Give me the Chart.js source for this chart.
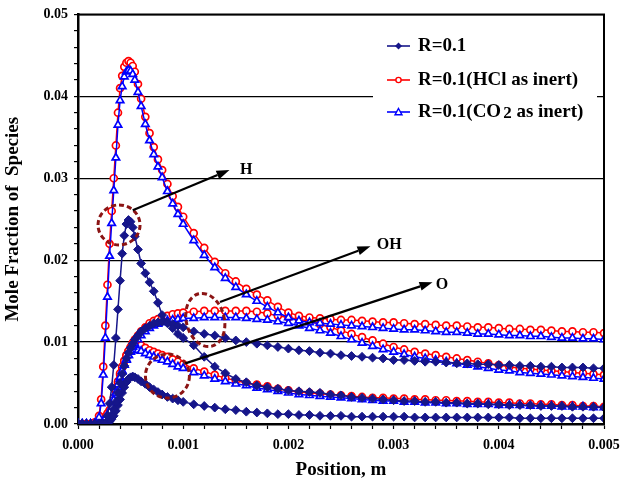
<!DOCTYPE html>
<html>
<head>
<meta charset="utf-8">
<script src="https://cdn.jsdelivr.net/npm/chart.js@4.4.0/dist/chart.umd.min.js"></script>
<style>
  body { margin: 0; background: #fff; }
  #wrap { width: 636px; height: 486px; }
</style>
</head>
<body>
<div id="wrap"><canvas id="myChart"></canvas></div>
<script>
// positions along the reactor, m (fine near the ignition zone)
const positionsEarly = [0, 0.00004, 0.00008, 0.00012, 0.00016, 0.0002, 0.00022, 0.00024, 0.00026, 0.00028,
  0.0003, 0.00032, 0.00034, 0.00036, 0.00038, 0.0004, 0.00042, 0.00044, 0.00046, 0.00048,
  0.0005, 0.00052, 0.00054, 0.00057, 0.0006, 0.00064, 0.00068, 0.00072, 0.00076, 0.0008,
  0.00085, 0.0009, 0.00095, 0.001];
const positionsTail = [0.0011, 0.0012, 0.0013, 0.0014, 0.0015, 0.0016, 0.0017, 0.0018, 0.0019, 0.002,
  0.0021, 0.0022, 0.0023, 0.0024, 0.0025, 0.0026, 0.0027, 0.0028, 0.0029, 0.003,
  0.0031, 0.0032, 0.0033, 0.0034, 0.0035, 0.0036, 0.0037, 0.0038, 0.0039, 0.004,
  0.0041, 0.0042, 0.0043, 0.0044, 0.0045, 0.0046, 0.0047, 0.0048, 0.0049, 0.005];
const positions = positionsEarly.concat(positionsTail);

// R=0.1
const baseH = [0, 0, 0, 0, 0, 0, 0, 0, 0, 0.001, 0.0025, 0.0045, 0.0072, 0.0105, 0.014, 0.0175, 0.0208, 0.023, 0.0244, 0.0249,
  0.0247, 0.024, 0.0229, 0.0213, 0.0196, 0.0184, 0.0173, 0.0162, 0.0148, 0.0133, 0.0123, 0.0117, 0.011, 0.0105].concat(
  [0.0096, 0.0082, 0.007, 0.0062, 0.0055, 0.0051, 0.0047, 0.0045, 0.0043, 0.0041,
  0.004, 0.0039, 0.0038, 0.0036, 0.0035, 0.0033, 0.0032, 0.0031, 0.003, 0.0029,
  0.0028, 0.0028, 0.0027, 0.0027, 0.0026, 0.0026, 0.0025, 0.0025, 0.0024, 0.0024,
  0.0023, 0.0023, 0.0023, 0.0022, 0.0022, 0.0022, 0.0021, 0.0021, 0.0021, 0.002]);
const baseOH = [0, 0, 0, 0, 0, 0, 0, 0, 0.0001, 0.0003, 0.0006, 0.0011, 0.0018, 0.0027, 0.0038, 0.005, 0.0061, 0.0071, 0.008, 0.0087,
  0.0093, 0.0098, 0.0103, 0.0108, 0.0113, 0.0117, 0.012, 0.0123, 0.0124, 0.0125, 0.0124, 0.0122, 0.012, 0.0118].concat(
  [0.0113, 0.011, 0.0108, 0.0105, 0.0102, 0.01, 0.0098, 0.0096, 0.0094, 0.0092,
  0.009, 0.0089, 0.0087, 0.0086, 0.0084, 0.0083, 0.0082, 0.0081, 0.008, 0.0078,
  0.0078, 0.0077, 0.0076, 0.0076, 0.0075, 0.0074, 0.0074, 0.0073, 0.0073, 0.0072,
  0.0072, 0.0071, 0.0071, 0.007, 0.007, 0.0069, 0.0069, 0.0069, 0.0068, 0.0068]);
const baseO = [0, 0, 0, 0, 0, 0, 0, 0, 0, 0.0001, 0.0003, 0.0006, 0.001, 0.0016, 0.0023, 0.003, 0.0038, 0.0045, 0.0051, 0.0055,
  0.0057, 0.0058, 0.0057, 0.0055, 0.0052, 0.0049, 0.0045, 0.0042, 0.0039, 0.0036, 0.0033, 0.0031, 0.0029, 0.0027].concat(
  [0.0024, 0.0022, 0.002, 0.0018, 0.0017, 0.0015, 0.0014, 0.0013, 0.0012, 0.0012,
  0.0011, 0.0011, 0.001, 0.001, 0.001, 0.0009, 0.0009, 0.0009, 0.0009, 0.0009,
  0.0009, 0.0008, 0.0008, 0.0008, 0.0008, 0.0008, 0.0008, 0.0008, 0.0008, 0.0008,
  0.0008, 0.0007, 0.0007, 0.0007, 0.0007, 0.0007, 0.0007, 0.0007, 0.0007, 0.0007]);

// R=0.1 (HCl as inert)
const hclH = [0, 0, 0, 0, 0.0002, 0.001, 0.003, 0.007, 0.012, 0.017, 0.022, 0.026, 0.03, 0.034, 0.038, 0.041, 0.0425, 0.0436, 0.0441, 0.0443,
  0.0441, 0.0437, 0.043, 0.0415, 0.0397, 0.0375, 0.0355, 0.0338, 0.0323, 0.031, 0.0293, 0.0278, 0.0265, 0.0253].concat(
  [0.0233, 0.0215, 0.0198, 0.0184, 0.0174, 0.0165, 0.0158, 0.0151, 0.0143, 0.0136,
  0.0132, 0.013, 0.0129, 0.0128, 0.0127, 0.0127, 0.0126, 0.0125, 0.0124, 0.0124,
  0.0123, 0.0122, 0.0122, 0.0121, 0.012, 0.012, 0.0119, 0.0118, 0.0118, 0.0117,
  0.0116, 0.0116, 0.0115, 0.0115, 0.0114, 0.0113, 0.0113, 0.0112, 0.0112, 0.0111]);
const hclOH = [0, 0, 0, 0, 0, 0, 0.0002, 0.0005, 0.0009, 0.0013, 0.0017, 0.0024, 0.0032, 0.0042, 0.0052, 0.0062, 0.007, 0.0077, 0.0083, 0.0089,
  0.0094, 0.0099, 0.0103, 0.0108, 0.0113, 0.0118, 0.0123, 0.0126, 0.0128, 0.013, 0.0132, 0.0134, 0.0135, 0.0136].concat(
  [0.0137, 0.0138, 0.0138, 0.0138, 0.0138, 0.0138, 0.0137, 0.0135, 0.0132, 0.013,
  0.0128, 0.0125, 0.0122, 0.0118, 0.0114, 0.011, 0.0106, 0.0102, 0.0098, 0.0094,
  0.0091, 0.0088, 0.0086, 0.0084, 0.0082, 0.008, 0.0078, 0.0076, 0.0074, 0.0072,
  0.007, 0.0068, 0.0067, 0.0066, 0.0065, 0.0064, 0.0063, 0.0062, 0.0061, 0.006]);
const hclO = [0, 0, 0, 0, 0, 0, 0, 0.0001, 0.0003, 0.0006, 0.0012, 0.0019, 0.0028, 0.0039, 0.005, 0.006, 0.0069, 0.0077, 0.0084, 0.0089,
  0.0093, 0.0098, 0.0099, 0.0098, 0.0096, 0.0093, 0.009, 0.0088, 0.0086, 0.0084, 0.0082, 0.0079, 0.0076, 0.0073].concat(
  [0.0068, 0.0064, 0.006, 0.0056, 0.0053, 0.005, 0.0048, 0.0046, 0.0043, 0.0041,
  0.0039, 0.0038, 0.0037, 0.0036, 0.0035, 0.0034, 0.0033, 0.0032, 0.0032, 0.0031,
  0.0031, 0.003, 0.003, 0.0029, 0.0029, 0.0028, 0.0028, 0.0027, 0.0027, 0.0026,
  0.0026, 0.0025, 0.0025, 0.0024, 0.0024, 0.0023, 0.0023, 0.0022, 0.0022, 0.0021]);

// R=0.1 (CO2 as inert)
const co2H = [0, 0, 0, 0, 0.0001, 0.0008, 0.0025, 0.006, 0.0105, 0.0155, 0.0205, 0.0245, 0.0285, 0.0325, 0.0365, 0.0395, 0.0412, 0.0424, 0.043, 0.0432,
  0.0431, 0.0427, 0.042, 0.0405, 0.0388, 0.0366, 0.0346, 0.0329, 0.0314, 0.0301, 0.0284, 0.0269, 0.0256, 0.0244].concat(
  [0.0224, 0.0206, 0.0191, 0.0178, 0.0167, 0.0158, 0.015, 0.0143, 0.0136, 0.013,
  0.0126, 0.0124, 0.0123, 0.0122, 0.0121, 0.012, 0.0119, 0.0118, 0.0117, 0.0116,
  0.0115, 0.0115, 0.0114, 0.0113, 0.0112, 0.0112, 0.0111, 0.011, 0.011, 0.0109,
  0.0108, 0.0108, 0.0107, 0.0107, 0.0106, 0.0105, 0.0105, 0.0104, 0.0104, 0.0103]);
const co2OH = [0, 0, 0, 0, 0, 0, 0.0001, 0.0004, 0.0007, 0.0011, 0.0015, 0.0021, 0.0029, 0.0038, 0.0048, 0.0057, 0.0065, 0.0072, 0.0078, 0.0084,
  0.0089, 0.0094, 0.0098, 0.0103, 0.0108, 0.0113, 0.0117, 0.012, 0.0122, 0.0124, 0.0126, 0.0127, 0.0128, 0.0129].concat(
  [0.0129, 0.013, 0.013, 0.013, 0.013, 0.0129, 0.0128, 0.0127, 0.0125, 0.0123,
  0.012, 0.0117, 0.0114, 0.0111, 0.0107, 0.0103, 0.0099, 0.0095, 0.0091, 0.0088,
  0.0085, 0.0082, 0.008, 0.0078, 0.0076, 0.0074, 0.0072, 0.007, 0.0068, 0.0066,
  0.0065, 0.0063, 0.0062, 0.0061, 0.006, 0.0059, 0.0058, 0.0057, 0.0056, 0.0055]);
const co2O = [0, 0, 0, 0, 0, 0, 0, 0.0001, 0.0002, 0.0005, 0.001, 0.0017, 0.0025, 0.0035, 0.0045, 0.0055, 0.0064, 0.0072, 0.0079, 0.0084,
  0.0088, 0.009, 0.0091, 0.009, 0.0089, 0.0086, 0.0084, 0.0082, 0.008, 0.0078, 0.0076, 0.0073, 0.007, 0.0068].concat(
  [0.0063, 0.0059, 0.0055, 0.0052, 0.0049, 0.0047, 0.0044, 0.0042, 0.004, 0.0038,
  0.0036, 0.0035, 0.0034, 0.0033, 0.0032, 0.0031, 0.003, 0.0029, 0.0028, 0.0028,
  0.0027, 0.0027, 0.0026, 0.0026, 0.0025, 0.0025, 0.0024, 0.0024, 0.0024, 0.0023,
  0.0023, 0.0023, 0.0022, 0.0022, 0.0022, 0.0021, 0.0021, 0.0021, 0.002, 0.002]);

const seriesNames = ["R=0.1", "R=0.1(HCl as inert)", "R=0.1(CO2 as inert)"];
const yTicks = ["0.00", "0.01", "0.02", "0.03", "0.04", "0.05"];
const xTicks = ["0.000", "0.001", "0.002", "0.003", "0.004", "0.005"];

const FONT = "'Liberation Serif', 'Times New Roman', serif";
const NAVY = "#16168a";
const RED = "#ff0000";
const BLUE = "#0000ff";

function toPoints(values) {
  return positions.map((x, i) => ({ x: x, y: values[i] }));
}

function baseSet(values) {
  return {
    data: toPoints(values), showLine: true, borderColor: NAVY, backgroundColor: NAVY,
    borderWidth: 1.5, pointStyle: "rectRot", pointRadius: 4.4, pointBorderWidth: 1,
  };
}
function hclSet(values) {
  return {
    data: toPoints(values), showLine: true, borderColor: RED, backgroundColor: "#fff",
    borderWidth: 1.5, pointStyle: "circle", pointRadius: 3.5, pointBorderWidth: 1.7,
  };
}
function co2Set(values) {
  return {
    data: toPoints(values), showLine: true, borderColor: BLUE, backgroundColor: "#fff",
    borderWidth: 1.5, pointStyle: "triangle", pointRadius: 4.3, pointBorderWidth: 1.7,
  };
}

function isMajor(v, step) {
  return Math.abs(v / step - Math.round(v / step)) < 1e-6;
}

function drawArrow(ctx, x1, y1, x2, y2) {
  const ang = Math.atan2(y2 - y1, x2 - x1);
  const len = 13, half = 4.5;
  const bx = x2 - len * Math.cos(ang), by = y2 - len * Math.sin(ang);
  ctx.beginPath();
  ctx.moveTo(x1, y1);
  ctx.lineTo(bx, by);
  ctx.stroke();
  ctx.beginPath();
  ctx.moveTo(x2, y2);
  ctx.lineTo(bx + half * Math.sin(ang), by - half * Math.cos(ang));
  ctx.lineTo(bx - half * Math.sin(ang), by + half * Math.cos(ang));
  ctx.closePath();
  ctx.fill();
}

function legendMarker(ctx, i, x, y) {
  ctx.lineWidth = 1.4;
  ctx.beginPath();
  if (i === 0) {
    ctx.fillStyle = NAVY;
    ctx.moveTo(x, y - 3.5); ctx.lineTo(x + 3.5, y); ctx.lineTo(x, y + 3.5); ctx.lineTo(x - 3.5, y);
    ctx.closePath(); ctx.fill();
  } else if (i === 1) {
    ctx.fillStyle = "#fff"; ctx.strokeStyle = RED;
    ctx.arc(x, y, 2.6, 0, Math.PI * 2); ctx.fill(); ctx.stroke();
  } else {
    ctx.fillStyle = "#fff"; ctx.strokeStyle = BLUE;
    ctx.moveTo(x, y - 3.5); ctx.lineTo(x + 3.5, y + 2.8); ctx.lineTo(x - 3.5, y + 2.8);
    ctx.closePath(); ctx.fill(); ctx.stroke();
  }
}

// frame, legend, circles and arrows
const overlay = {
  id: "overlay",
  afterDraw(chart) {
    const ctx = chart.ctx;
    const a = chart.chartArea;
    const xs = chart.scales.x;
    const ys = chart.scales.y;
    const px = (v) => xs.getPixelForValue(v);
    const py = (v) => ys.getPixelForValue(v);
    ctx.save();

    // top and right border
    ctx.strokeStyle = "#000";
    ctx.lineWidth = 2;
    ctx.beginPath();
    ctx.moveTo(a.left, a.top);
    ctx.lineTo(a.right, a.top);
    ctx.lineTo(a.right, a.bottom);
    ctx.stroke();

    // legend
    ctx.fillStyle = "#fff";
    ctx.fillRect(373, 26, 224, 104);
    const colors = [NAVY, RED, BLUE];
    const rows = [46, 80, 112];
    ctx.textBaseline = "middle";
    for (let i = 0; i < 3; i++) {
      const y = rows[i];
      ctx.strokeStyle = colors[i];
      ctx.lineWidth = 1.6;
      ctx.beginPath();
      ctx.moveTo(387, y);
      ctx.lineTo(410, y);
      ctx.stroke();
      legendMarker(ctx, i, 398.5, y);
      ctx.fillStyle = "#000";
      ctx.font = "bold 19px " + FONT;
      if (i < 2) {
        ctx.fillText(seriesNames[i], 418, y);
      } else {
        const head = "R=0.1(CO";
        ctx.fillText(head, 418, y);
        let x = 418 + ctx.measureText(head).width + 2;
        ctx.font = "bold 17px " + FONT;
        ctx.fillText("2", x, y + 2);
        x += ctx.measureText("2").width;
        ctx.font = "bold 19px " + FONT;
        ctx.fillText(" as inert)", x, y);
      }
    }

    // dashed rings round the peaks
    ctx.strokeStyle = "#8b1414";
    ctx.lineWidth = 3;
    ctx.setLineDash([5, 3]);
    ctx.beginPath();
    ctx.ellipse(px(0.00039), py(0.0243), 21, 20, 0, 0, Math.PI * 2);
    ctx.stroke();
    ctx.beginPath();
    ctx.ellipse(px(0.00121), py(0.0127), 19, 27, -0.25, 0, Math.PI * 2);
    ctx.stroke();
    ctx.beginPath();
    ctx.ellipse(px(0.00085), py(0.00585), 22, 22, 0, 0, Math.PI * 2);
    ctx.stroke();
    ctx.setLineDash([]);

    // arrows and species labels
    ctx.strokeStyle = "#000";
    ctx.fillStyle = "#000";
    ctx.lineWidth = 2.2;
    drawArrow(ctx, px(0.00052), py(0.0261), px(0.00144), py(0.031));
    drawArrow(ctx, px(0.00135), py(0.0149), px(0.00278), py(0.0217));
    drawArrow(ctx, px(0.00102), py(0.0074), px(0.00337), py(0.0173));
    ctx.font = "bold 16px " + FONT;
    ctx.textBaseline = "middle";
    ctx.fillText("H", px(0.00154), py(0.0310));
    ctx.fillText("OH", px(0.00284), py(0.0219));
    ctx.fillText("O", px(0.00340), py(0.0170));
    ctx.restore();
  },
};

new Chart(document.getElementById("myChart"), {
  type: "scatter",
  data: {
    datasets: [
      baseSet(baseH), baseSet(baseOH), baseSet(baseO),
      co2Set(co2H), co2Set(co2OH), co2Set(co2O),
      hclSet(hclH), hclSet(hclOH), hclSet(hclO),
    ],
  },
  options: {
    responsive: true,
    maintainAspectRatio: false,
    animation: false,
    layout: { padding: { top: 14, right: 32, left: 0, bottom: 0 } },
    plugins: { legend: { display: false }, tooltip: { enabled: false } },
    scales: {
      x: {
        type: "linear", min: 0, max: 0.005,
        afterFit: (s) => { s.height = 62; },
        border: { display: true, color: "#000", width: 2.5 },
        grid: { drawOnChartArea: false, drawTicks: true, tickLength: 5, tickColor: "#000", tickWidth: 1.2 },
        ticks: {
          stepSize: 0.0002, autoSkip: false, maxRotation: 0, padding: 8, color: "#000",
          font: { family: FONT, size: 14, weight: "bold" },
          callback: (v) => (isMajor(v, 0.001) ? xTicks[Math.round(v / 0.001)] : ""),
        },
        title: {
          display: true, text: "Position, m", color: "#000",
          font: { family: FONT, size: 19, weight: "bold" }, padding: { top: 0, bottom: 5 },
        },
      },
      y: {
        type: "linear", min: 0, max: 0.05,
        afterFit: (s) => { s.width = 78; },
        border: { display: true, color: "#000", width: 2.5 },
        grid: {
          drawTicks: true, tickLength: 4, tickColor: "#000", tickWidth: 1.2, lineWidth: 1.2,
          color: (c) => (c.tick && isMajor(c.tick.value, 0.01) ? "#000" : "rgba(0,0,0,0)"),
        },
        ticks: {
          stepSize: 0.002, autoSkip: false, padding: 6, color: "#000",
          font: { family: FONT, size: 14, weight: "bold" },
          callback: (v) => (isMajor(v, 0.01) ? yTicks[Math.round(v / 0.01)] : ""),
        },
        title: {
          display: true, text: "Mole Fraction of  Species", color: "#000",
          font: { family: FONT, size: 19, weight: "bold" }, padding: { top: 2, bottom: 0 },
        },
      },
    },
  },
  plugins: [overlay],
});
</script>
</body>
</html>
